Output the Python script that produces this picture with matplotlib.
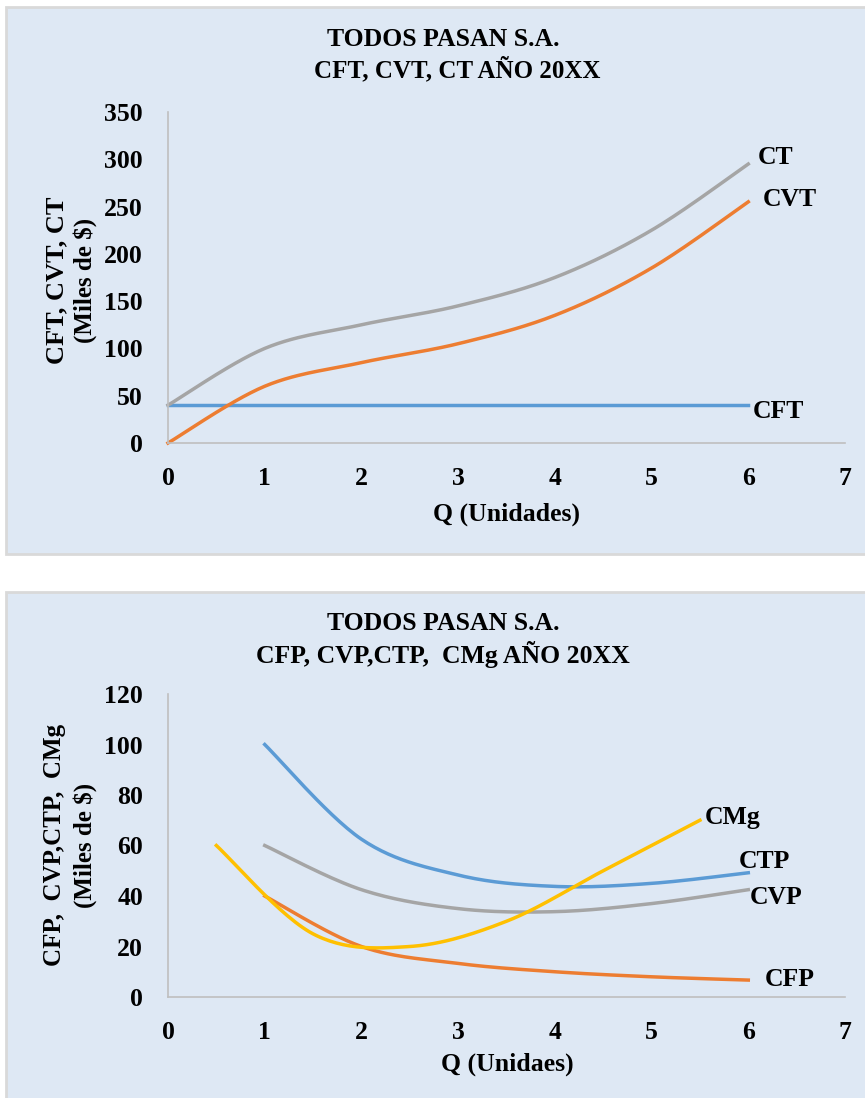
import matplotlib
matplotlib.use('Agg')
import matplotlib.pyplot as plt
import numpy as np
from matplotlib.patches import Rectangle

# ---- data (miles de $) ----
q = [0, 1, 2, 3, 4, 5, 6]
cft = [40, 40, 40, 40, 40, 40, 40]
cvt = [0, 60, 85, 105, 135, 185, 255]
ct = [40, 100, 125, 145, 175, 225, 295]

q_avg = [1, 2, 3, 4, 5, 6]
cfp = [40, 20, 13.3, 10, 8, 6.7]
cvp = [60, 42.5, 35, 33.8, 37, 42.5]
ctp = [100, 62.5, 48.3, 43.8, 45, 49.2]

q_mg = [0.5, 1.5, 2.5, 3.5, 4.5, 5.5]
cmg = [60, 25, 20, 30, 50, 70]

BLUE = '#5b9bd5'
ORANGE = '#ed7d31'
GRAY = '#a5a5a5'
YELLOW = '#ffc000'
BG = '#dee8f4'

plt.rcParams['font.family'] = ['Liberation Serif', 'DejaVu Serif']
plt.rcParams['font.weight'] = 'bold'


def smooth(x, y, n=30):
    # Excel-like smoothed line: cubic bezier through the points
    x = np.asarray(x, float)
    y = np.asarray(y, float)
    px = np.concatenate([[x[0]], x, [x[-1]]])
    py = np.concatenate([[y[0]], y, [y[-1]]])
    xs, ys = [], []
    t = np.linspace(0, 1, n)
    for i in range(1, len(px) - 2):
        p0 = np.array([px[i], py[i]])
        p3 = np.array([px[i + 1], py[i + 1]])
        c1 = p0 + (np.array([px[i + 1], py[i + 1]]) - np.array([px[i - 1], py[i - 1]])) / 6
        c2 = p3 - (np.array([px[i + 2], py[i + 2]]) - np.array([px[i], py[i]])) / 6
        b = ((1 - t) ** 3)[:, None] * p0 + (3 * (1 - t) ** 2 * t)[:, None] * c1 \
            + (3 * (1 - t) * t ** 2)[:, None] * c2 + (t ** 3)[:, None] * p3
        xs.extend(b[:, 0])
        ys.extend(b[:, 1])
    return xs, ys


fig = plt.figure(figsize=(8.65, 10.98), dpi=100)
H = 1098.0
W = 865.0

# panel backgrounds
for top, bot in [(7, 554), (592, 1100)]:
    fig.patches.append(Rectangle((6 / W, 1 - bot / H), 1.0, (bot - top) / H,
                                 transform=fig.transFigure, facecolor=BG,
                                 edgecolor='#d9d9d9', linewidth=2, zorder=-10))


def style(ax, ymax, ystep):
    ax.set_facecolor('none')
    ax.set_xlim(0, 7)
    ax.set_ylim(0, ymax)
    ax.set_xticks(range(0, 8))
    ax.set_yticks(np.arange(0, ymax + 1, ystep))
    for s in ['top', 'right']:
        ax.spines[s].set_visible(False)
    for s in ['left', 'bottom']:
        ax.spines[s].set_color('#bfbfbf')
        ax.spines[s].set_linewidth(1.2)
    ax.tick_params(length=0, labelsize=18.5)
    ax.tick_params(axis='y', pad=18)
    ax.tick_params(axis='x', pad=17)
    for lab in ax.get_xticklabels() + ax.get_yticklabels():
        lab.set_fontweight('bold')


# ---- top chart ----
ax1 = fig.add_axes([168 / W, 1 - 443 / H, 677 / W, 331 / H])
style(ax1, 350, 50)
ax1.plot(q, cft, color=BLUE, lw=2.5, clip_on=False)
ax1.plot(*smooth(q, cvt), color=ORANGE, lw=2.5, clip_on=False)
ax1.plot(*smooth(q, ct), color=GRAY, lw=2.5, clip_on=False)
ax1.text(6.1, 302, 'CT', fontsize=18.5, fontweight='bold', va='center')
ax1.text(6.15, 258, 'CVT', fontsize=18.5, fontweight='bold', va='center')
ax1.text(6.05, 33, 'CFT', fontsize=18.5, fontweight='bold', va='center')
fig.text(443 / W, 1 - 39 / H, 'TODOS PASAN S.A.', ha='center', va='center',
         fontsize=18.5, fontweight='bold')
fig.text(457 / W, 1 - 69 / H, 'CFT, CVT, CT AÑO 20XX', ha='center', va='center',
         fontsize=18, fontweight='bold')
fig.text(506 / W, 1 - 514 / H, 'Q (Unidades)', ha='center', va='center',
         fontsize=18.5, fontweight='bold')
fig.text(57 / W, 1 - 280 / H, 'CFT, CVT, CT', rotation=90, ha='center', va='center',
         fontsize=19, fontweight='bold')
fig.text(85 / W, 1 - 280 / H, '(Miles de $)', rotation=90, ha='center', va='center',
         fontsize=18, fontweight='bold')

# ---- bottom chart ----
ax2 = fig.add_axes([168 / W, 1 - 997 / H, 677 / W, 303 / H])
style(ax2, 120, 20)
ax2.plot(*smooth(q_avg, ctp), color=BLUE, lw=2.5)
ax2.plot(*smooth(q_avg, cfp), color=ORANGE, lw=2.5)
ax2.plot(*smooth(q_avg, cvp), color=GRAY, lw=2.5)
ax2.plot(*smooth(q_mg, cmg), color=YELLOW, lw=2.5)
ax2.text(5.55, 71, 'CMg', fontsize=18.5, fontweight='bold', va='center')
ax2.text(5.9, 53.5, 'CTP', fontsize=18.5, fontweight='bold', va='center')
ax2.text(6.02, 39.5, 'CVP', fontsize=18.5, fontweight='bold', va='center')
ax2.text(6.17, 7, 'CFP', fontsize=18.5, fontweight='bold', va='center')
fig.text(443 / W, 1 - 624 / H, 'TODOS PASAN S.A.', ha='center', va='center',
         fontsize=18.5, fontweight='bold')
fig.text(443 / W, 1 - 654 / H, 'CFP, CVP,CTP,  CMg AÑO 20XX', ha='center', va='center',
         fontsize=18.5, fontweight='bold')
fig.text(507 / W, 1 - 1064 / H, 'Q (Unidaes)', ha='center', va='center',
         fontsize=18.5, fontweight='bold')
fig.text(55 / W, 1 - 845 / H, 'CFP,  CVP,CTP,  CMg', rotation=90, ha='center', va='center',
         fontsize=18, fontweight='bold')
fig.text(85 / W, 1 - 845 / H, '(Miles de $)', rotation=90, ha='center', va='center',
         fontsize=18, fontweight='bold')

plt.savefig('out.png', dpi=100)
